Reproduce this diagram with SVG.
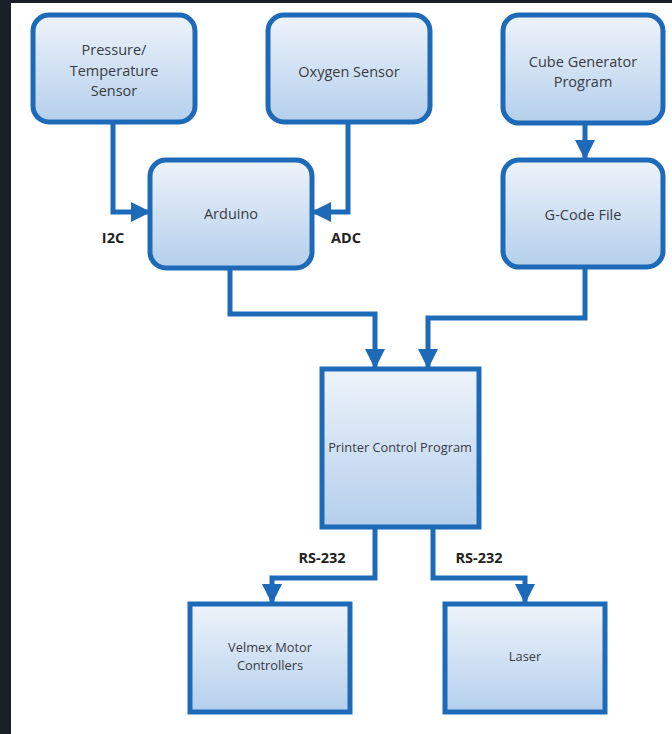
<svg xmlns="http://www.w3.org/2000/svg" width="672" height="734" viewBox="0 0 672 734">
<defs>
<linearGradient id="g" x1="0" y1="0" x2="0" y2="1">
<stop offset="0" stop-color="#eef3fa"/>
<stop offset="1" stop-color="#b4cfec"/>
</linearGradient>
<marker id="ah" viewBox="0 0 10 10" refX="9" refY="5" markerWidth="4" markerHeight="4" markerUnits="strokeWidth" orient="auto">
<path d="M0,0 L10,5 L0,10 z" fill="#1d6ab8"/>
</marker>
<style>
.box{fill:url(#g);stroke:#1d6ab8;stroke-width:5}
.t{font-family:"Open Sans","Liberation Sans",sans-serif;font-size:14.5px;fill:#383c44;text-anchor:middle}
.s{font-size:12.8px}
.lb{font-family:"Open Sans","Liberation Sans",sans-serif;font-size:14.5px;font-weight:bold;fill:#222;text-anchor:middle}
.c{fill:none;stroke:#1d6ab8;stroke-width:5;marker-end:url(#ah)}
</style>
</defs>
<rect x="0" y="0" width="672" height="734" fill="#ffffff"/>
<rect x="0" y="0" width="11" height="734" fill="#1b1f28"/>
<rect x="0" y="0" width="672" height="3" fill="#1b1f28"/>
<g id="connectors">
<path class="c" d="M113,122 V212 H149"/>
<path class="c" d="M348,122 V212 H313"/>
<path class="c" d="M585,123 V158"/>
<path class="c" d="M230,268 V314 H375 V367"/>
<path class="c" d="M585,267 V318 H428 V367"/>
<path class="c" d="M375,527 V578 H272 V602"/>
<path class="c" d="M433,527 V578 H525 V602"/>
<text class="lb" x="113" y="243">I2C</text>
<text class="lb" x="346" y="243">ADC</text>
<text class="lb" x="322" y="563">RS-232</text>
<text class="lb" x="479" y="563">RS-232</text>
</g>
<g id="pressure">
<rect class="box" x="33" y="15" width="162" height="107" rx="16"/>
<text class="t" x="114" y="55">Pressure/</text>
<text class="t" x="114" y="76">Temperature</text>
<text class="t" x="114" y="96">Sensor</text>
</g>
<g id="oxygen">
<rect class="box" x="268" y="15" width="162" height="107" rx="16"/>
<text class="t" x="349" y="77">Oxygen Sensor</text>
</g>
<g id="cube">
<rect class="box" x="503" y="15" width="160" height="108" rx="16"/>
<text class="t" x="583" y="67">Cube Generator</text>
<text class="t" x="583" y="87">Program</text>
</g>
<g id="arduino">
<rect class="box" x="150" y="160" width="162" height="108" rx="16"/>
<text class="t" x="231" y="219">Arduino</text>
</g>
<g id="gcode">
<rect class="box" x="503" y="160" width="160" height="107" rx="16"/>
<text class="t" x="583" y="220">G-Code File</text>
</g>
<g id="printer">
<rect class="box" x="322" y="369" width="157" height="158"/>
<text class="t s" x="400" y="452">Printer Control Program</text>
</g>
<g id="velmex">
<rect class="box" x="190" y="604" width="160" height="108"/>
<text class="t s" x="270" y="652">Velmex Motor</text>
<text class="t s" x="270" y="670">Controllers</text>
</g>
<g id="laser">
<rect class="box" x="445" y="604" width="160" height="108"/>
<text class="t s" x="525" y="661">Laser</text>
</g>
</svg>
